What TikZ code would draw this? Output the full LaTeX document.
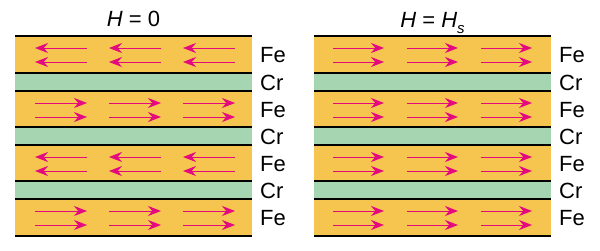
\documentclass[tikz,border=0pt]{standalone}
\usepackage{fontspec}
\setmainfont{Liberation Sans}
\usetikzlibrary{arrows.meta}
\definecolor{feyellow}{HTML}{F6C54F}
\definecolor{crgreen}{HTML}{A6D5B1}
\definecolor{spinpink}{HTML}{E5097F}

\begin{document}
\begin{tikzpicture}[x=1pt,y=-1pt,
  spin/.style={-{Stealth[length=13pt,width=10pt]}, spinpink, line width=1pt},
  lbl/.style={font=\fontsize{22}{22}\selectfont, anchor=west, inner sep=0pt},
  ttl/.style={font=\fontsize{22}{22}\selectfont, inner sep=0pt}]
\useasboundingbox (0,0) rectangle (600,250);
% Two stacks: H = 0 (left) and H = H_s (right)
\foreach \px in {15,314} {
  % layers: top, thickness, colour, label
  \foreach \y/\h/\c/\t in {36/37/feyellow/Fe,73/18/crgreen/Cr,91/36/feyellow/Fe,
      127/18/crgreen/Cr,145/36/feyellow/Fe,181/18/crgreen/Cr,199/37/feyellow/Fe} {
    \fill[\c] (\px,\y) rectangle ++(237,\h);
    \node[lbl] (lay\px-\y) at (\px+245,\y+\h/2+1) {\t};
  }
  % interfaces
  \foreach \y in {36,73,91,127,145,181,199,236}
    \draw[line width=1.2pt] (\px,\y) -- ++(237,0);
}
% Spins, left stack: antiparallel
\foreach \y/\d in {36/-1,91/1,145/-1,199/1} {
  \foreach \x in {20,94,168} {
    \foreach \r in {12,26} {
      \ifnum\d=1
        \draw[spin] (15+\x,\y+\r) -- ++(52,0);
      \else
        \draw[spin] (15+\x+52,\y+\r) -- ++(-52,0);
      \fi
    }
  }
}
% Spins, right stack: all parallel
\foreach \y in {36,91,145,199}
  \foreach \x in {19,93,167}
    \foreach \r in {12,26}
      \draw[spin] (314+\x,\y+\r) -- ++(51,0);
% Titles
\node[ttl] (h0) at (133.5,19) {\textit{H} = 0};
\node[ttl,anchor=base] (hs) at (432.5,27) {\textit{H} = \textit{H}\raisebox{-0.3em}{\fontsize{15}{15}\selectfont\textit{s}}};
\end{tikzpicture}
\end{document}
